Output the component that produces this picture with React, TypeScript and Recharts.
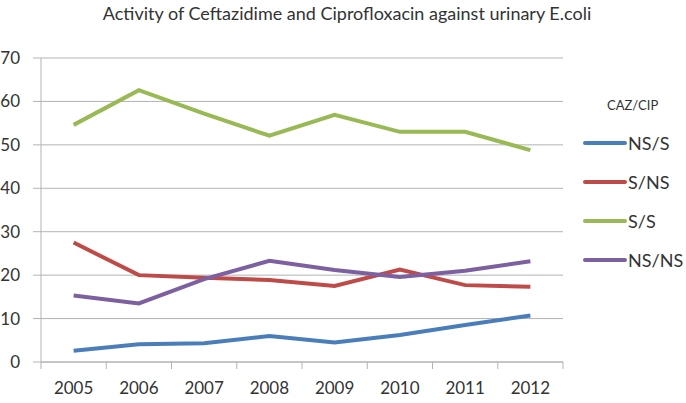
import { CartesianGrid, Legend, Line, LineChart, XAxis, YAxis } from "recharts";

const years = ["2005", "2006", "2007", "2008", "2009", "2010", "2011", "2012"];
const nsS = [2.6, 4.1, 4.3, 6.0, 4.5, 6.2, 8.5, 10.7];
const sNs = [27.5, 20.0, 19.4, 18.9, 17.5, 21.3, 17.7, 17.3];
const sS = [54.6, 62.6, 57.2, 52.1, 56.9, 53.0, 53.0, 48.8];
const nsNs = [15.3, 13.5, 19.1, 23.3, 21.2, 19.6, 21.0, 23.2];
const yTicks = [0, 10, 20, 30, 40, 50, 60, 70];

const series = [
  { key: "nsS", name: "NS/S", color: "#4a7ebb", values: nsS },
  { key: "sNs", name: "S/NS", color: "#be4b48", values: sNs },
  { key: "sS", name: "S/S", color: "#98b954", values: sS },
  { key: "nsNs", name: "NS/NS", color: "#7d60a0", values: nsNs },
];

const data = years.map((year, i) => {
  const row: Record<string, string | number> = { year };
  series.forEach((s) => {
    row[s.key] = s.values[i];
  });
  return row;
});

const FONT = "Lato, 'Open Sans', sans-serif";
const GRID = "#b3b3b3";
const TEXT = "#333333";
const PLOT_W = 522;
const STEP = PLOT_W / years.length;

// Excel puts the category ticks between the labels, so draw them by hand.
function YearTick(props: any) {
  const { x, y, payload, index } = props;
  const left = x - STEP / 2;
  return (
    <g>
      <line x1={left} y1={y - 8} x2={left} y2={y - 1} stroke={GRID} />
      {index === years.length - 1 && (
        <line x1={left + STEP} y1={y - 8} x2={left + STEP} y2={y - 1} stroke={GRID} />
      )}
      <text
        x={x}
        y={y + 24}
        textAnchor="middle"
        fontSize={17}
        fill={TEXT}
        fontFamily={FONT}
      >
        {payload.value}
      </text>
    </g>
  );
}

function LegendBox() {
  return (
    <div style={{ fontFamily: FONT, color: TEXT }}>
      <div style={{ fontSize: 13, marginLeft: 29, height: 30, lineHeight: "24px" }}>
        CAZ/CIP
      </div>
      {series.map((s) => (
        <div key={s.key} style={{ display: "flex", alignItems: "center", height: 39 }}>
          <span
            style={{
              display: "inline-block",
              width: 44,
              height: 4,
              borderRadius: 2,
              background: s.color,
              marginLeft: 5,
            }}
          />
          <span style={{ fontSize: 18, marginLeft: 1 }}>{s.name}</span>
        </div>
      ))}
    </div>
  );
}

export default function App() {
  return (
    <div
      style={{
        position: "absolute",
        left: 0,
        top: 0,
        width: 686,
        height: 403,
        background: "#fff",
      }}
    >
      <div
        style={{
          position: "absolute",
          top: 2,
          left: 0,
          width: 694,
          textAlign: "center",
          fontFamily: FONT,
          fontSize: 18,
          color: TEXT,
        }}
      >
        Activity of Ceftazidime and Ciprofloxacin against urinary E.coli
      </div>
      <LineChart
        width={686}
        height={403}
        data={data}
        margin={{ top: 58, right: 123, left: 0, bottom: 0 }}
      >
        <CartesianGrid vertical={false} stroke={GRID} />
        <XAxis
          dataKey="year"
          height={41}
          stroke={GRID}
          tickLine={false}
          tick={<YearTick />}
          interval={0}
          padding={{ left: STEP / 2, right: STEP / 2 }}
        />
        <YAxis
          domain={[0, 70]}
          ticks={yTicks}
          width={41}
          stroke={GRID}
          tickSize={8}
          tickMargin={13}
          tick={{ fontSize: 17, fill: TEXT, fontFamily: FONT }}
          interval={0}
        />
        <Legend
          layout="vertical"
          align="center"
          verticalAlign="middle"
          content={<LegendBox />}
          wrapperStyle={{ left: 578, top: 93, width: 108 }}
        />
        {series.map((s) => (
          <Line
            key={s.key}
            dataKey={s.key}
            name={s.name}
            type="linear"
            stroke={s.color}
            strokeWidth={4}
            dot={false}
            activeDot={false}
            isAnimationActive={false}
          />
        ))}
      </LineChart>
    </div>
  );
}
